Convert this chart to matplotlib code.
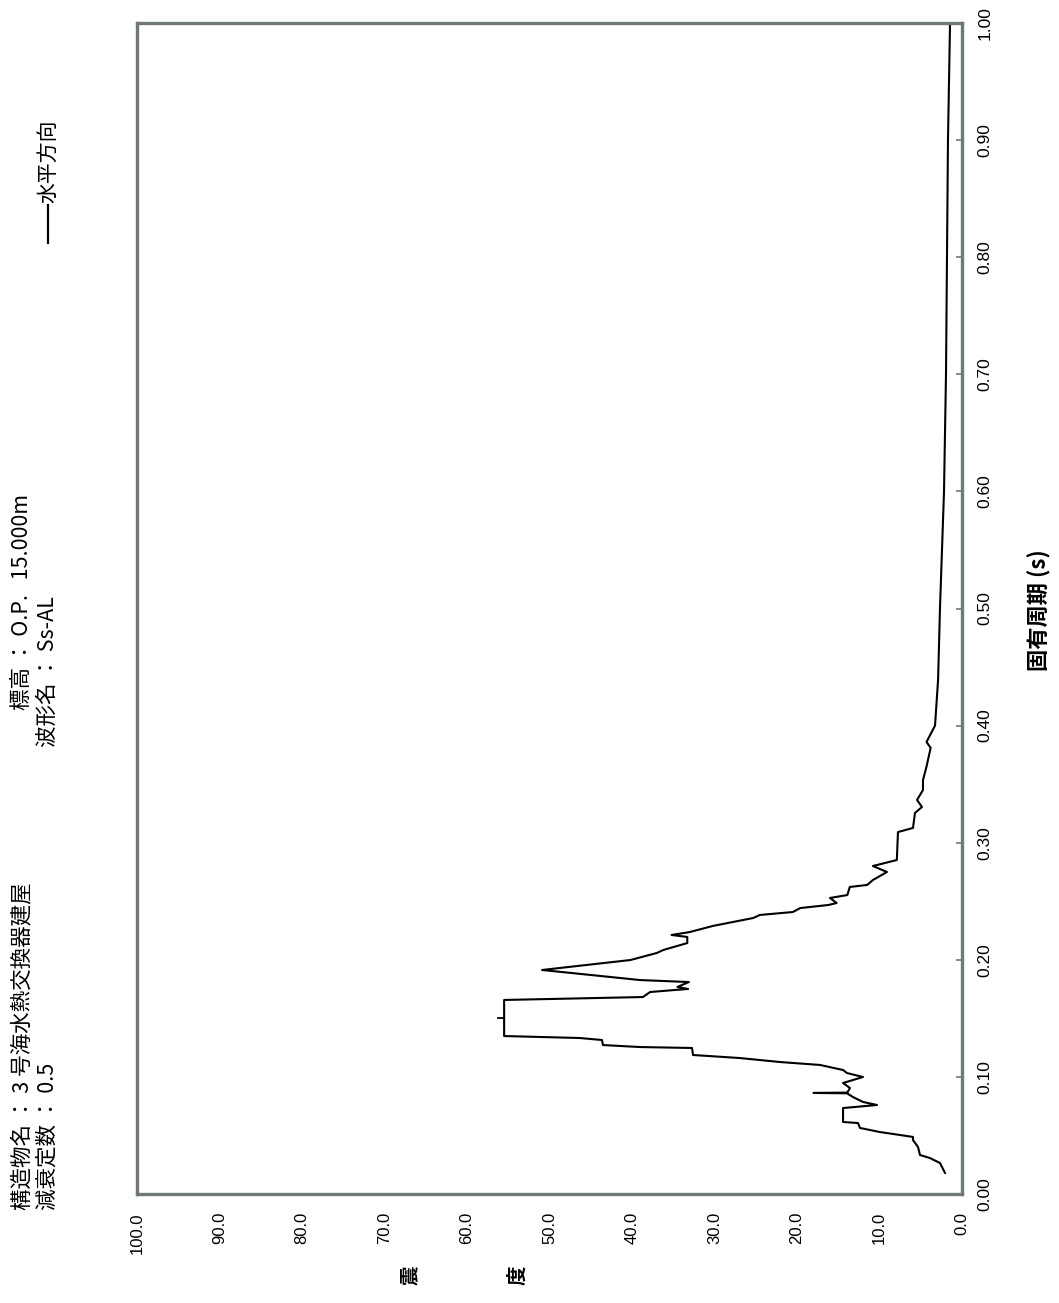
import matplotlib
matplotlib.use("Agg")
import matplotlib.pyplot as plt
from matplotlib.lines import Line2D

# response spectrum (period in s, value)
period = [0.018, 0.0265, 0.0273, 0.0307, 0.0333, 0.0401, 0.0461, 0.0487, 0.0504, 0.0529,
          0.0564, 0.0606, 0.0615, 0.0734, 0.0760, 0.0786, 0.0828, 0.0860, 0.0863, 0.0866,
          0.0905, 0.0948, 0.0999, 0.1033, 0.1059, 0.1102, 0.1127, 0.1161, 0.1187, 0.1247,
          0.1255, 0.1272, 0.1315, 0.1332, 0.1349, 0.1657, 0.1682, 0.1725, 0.1751, 0.1768,
          0.1810, 0.1827, 0.1913, 0.1998, 0.2058, 0.2084, 0.2143, 0.2195, 0.2212, 0.2237,
          0.2289, 0.2357, 0.2383, 0.2408, 0.2442, 0.2468, 0.2485, 0.2528, 0.2553, 0.2622,
          0.2639, 0.2681, 0.2750, 0.2801, 0.2852, 0.3091, 0.3126, 0.3254, 0.3305, 0.3365,
          0.3450, 0.3535, 0.365, 0.381, 0.386, 0.40, 0.439, 0.50, 0.60, 0.70,
          0.80, 0.90, 1.00]
accel = [2.06, 2.67, 2.91, 3.88, 5.09, 5.33, 5.94, 5.94, 7.52, 9.94,
         12.36, 12.61, 14.42, 14.42, 10.30, 12.0, 13.21, 13.94, 18.0, 13.9,
         13.58, 14.42, 12.0, 13.94, 14.42, 17.21, 22.06, 26.91, 32.6, 32.73,
         39.03, 43.52, 43.64, 46.3, 55.5, 55.5, 38.67, 37.8, 33.2, 34.5,
         33.1, 39.0, 50.9, 40.2, 37.0, 36.2, 33.3, 33.3, 35.2, 33.0,
         30.2, 25.3, 24.5, 20.5, 19.6, 16.2, 15.2, 16.0, 13.9, 13.6,
         11.5, 10.8, 9.1, 10.8, 7.9, 7.76, 5.94, 5.7, 4.85, 5.45,
         4.73, 4.73, 4.3, 3.8, 4.3, 3.27, 2.9, 2.67, 2.18, 1.94,
         1.82, 1.7, 1.45]

acc_ticks = [0, 10, 20, 30, 40, 50, 60, 70, 80, 90, 100]
period_ticks = [0.0, 0.1, 0.2, 0.3, 0.4, 0.5, 0.6, 0.7, 0.8, 0.9, 1.0]

W, H = 1059, 1303
jp = ['Noto Sans CJK JP', 'DejaVu Sans']
num = ['Liberation Sans', 'DejaVu Sans']
narrow = ['Liberation Sans Narrow', 'Liberation Sans', 'DejaVu Sans']

fig = plt.figure(figsize=(W / 100, H / 100), dpi=100)

def fx(px):
    return px / W

def fy(py):
    return 1 - py / H

# the whole chart is turned a quarter turn: period runs up the right side
ax = fig.add_axes([fx(137), fy(1194), (962 - 137) / W, (1194 - 23) / H])
ax.plot(accel, period, color='black', lw=1.5)
ax.plot([56.2, 55.5], [0.15, 0.15], color='black', lw=1.3)
ax.set_xlim(100, 0)
ax.set_ylim(0, 1)

for s in ax.spines.values():
    s.set_color('#6f7878')
    s.set_linewidth(2.4)

ax.set_xticks(acc_ticks)
ax.set_xticklabels(['%.1f' % v for v in acc_ticks], rotation=90, family=num, fontsize=12)
ax.tick_params(axis='x', length=0, pad=13)
ax.yaxis.tick_right()
ax.set_yticks(period_ticks)
ax.set_yticklabels(['%.2f' % v for v in period_ticks], rotation=90, va='center',
                   family=narrow, fontsize=12.5)
ax.tick_params(axis='y', direction='in', length=4, width=1.2, color='#6f7878', pad=11)

# axis titles
fig.text(fx(1040), fy(610), '固有周期 (s)', rotation=90, ha='center', va='center',
         family=jp, fontsize=16, fontweight='bold')
fig.text(fx(410), fy(1275), '震', rotation=90, ha='center', va='center',
         family=jp, fontsize=14, fontweight='bold')
fig.text(fx(518), fy(1275), '度', rotation=90, ha='center', va='center',
         family=jp, fontsize=14, fontweight='bold')

# header lines
fig.text(fx(22), fy(1210), '構造物名 ： 3 号海水熱交換器建屋', rotation=90,
         ha='center', va='bottom', family=jp, fontsize=15.5)
fig.text(fx(48), fy(1210), '減衰定数 ： 0.5', rotation=90,
         ha='center', va='bottom', family=jp, fontsize=15.5)
fig.text(fx(22), fy(710), '標高 ： O.P.   15.000m', rotation=90,
         ha='center', va='bottom', family=jp, fontsize=15.5)
fig.text(fx(48), fy(747), '波形名 ： Ss-AL', rotation=90,
         ha='center', va='bottom', family=jp, fontsize=15.5)

# legend
fig.add_artist(Line2D([fx(48), fx(48)], [fy(243), fy(205)], color='black', lw=1.6))
fig.text(fx(48), fy(203), '水平方向', rotation=90, ha='center', va='bottom',
         family=jp, fontsize=15)

fig.savefig('out.png', dpi=100, facecolor='white')
